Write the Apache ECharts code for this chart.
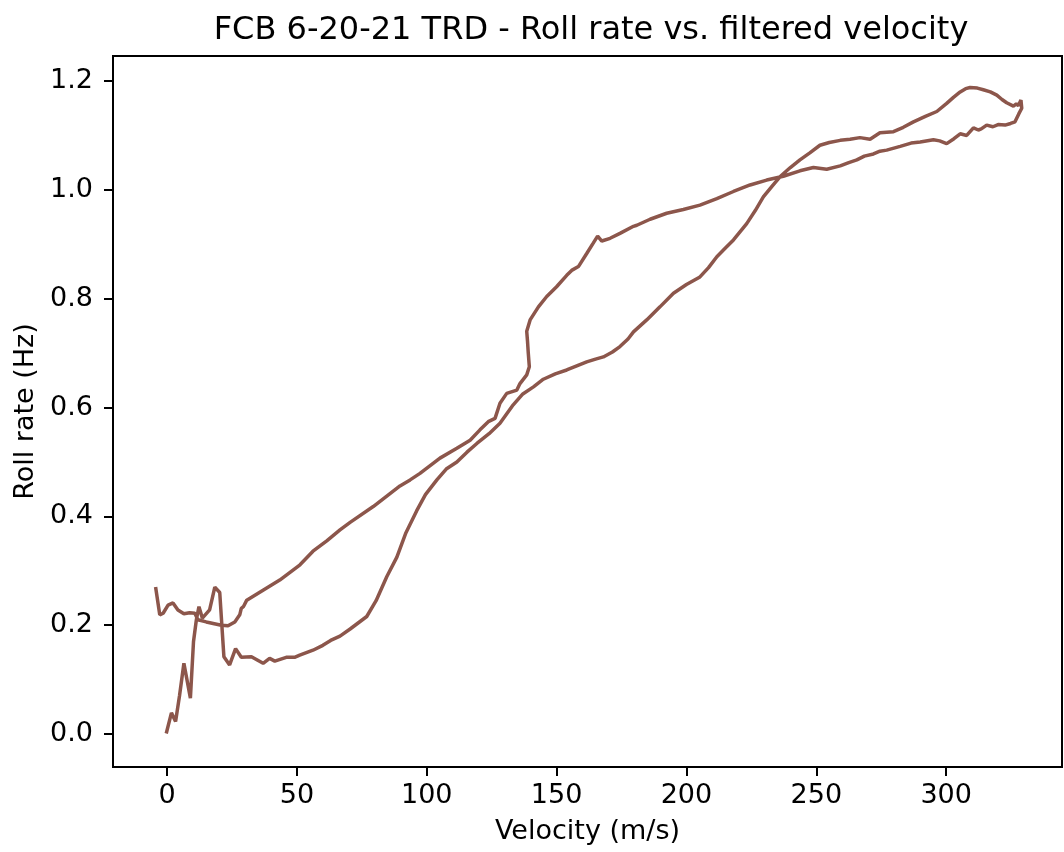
<!DOCTYPE html>
<html>
<head>
<meta charset="utf-8">
<script src="https://cdn.jsdelivr.net/npm/echarts@6/dist/echarts.min.js"></script>
<style>
html,body{margin:0;padding:0;background:#fff;}
#chart{width:1064px;height:852px;}
</style>
</head>
<body>
<div id="chart"></div>
<script>
const title = "FCB 6-20-21 TRD - Roll rate vs. filtered velocity";
const xTicks = [0, 50, 100, 150, 200, 250, 300];
const yTicks = [0.0, 0.2, 0.4, 0.6, 0.8, 1.0, 1.2];

// Ascent then descent, in flight order
const velocity = [
  -0.3, 0.4, 1.7, 3.3, 4.8, 6.5, 9.0, 10.2, 11.3, 12.3, 13.6, 16.4, 18.4, 20.3, 21.9, 24.1, 26.4, 28.6, 32.5, 37.0, 39.5, 41.5, 45.9, 49.1, 51.1, 56.2, 60.0,
  63.0, 66.6, 70.5, 76.9, 80.5, 84.6, 88.5, 92.0, 96.1, 99.5, 103.9, 107.5, 111.6, 115.5, 119.3, 124.0, 128.2, 133.3, 137.0, 141.1, 144.9, 149.5, 153.9, 158.0, 161.6, 165.0,
  168.0, 171.5, 174.4, 177.5, 179.6, 184.7, 189.8, 195.0, 200.0, 205.2, 208.5, 211.7, 215.0, 218.1, 223.2, 226.5, 229.6, 233.0, 236.0, 240.0, 243.7, 247.5, 251.4, 255.0, 259.2,
  263.0, 266.8, 270.7, 274.5, 279.7, 283.5, 287.4, 292.0, 296.4, 300.2, 302.8, 305.4, 307.5, 309.2, 312.0, 314.3, 317.0, 319.5, 321.5, 323.3, 325.9, 327.0, 327.8, 328.8, 329.5,
  329.1, 328.0, 326.5, 324.8, 322.7, 320.0, 318.0, 315.6, 313.5, 312.4, 310.5, 307.9, 305.4, 303.0, 300.2, 297.5, 295.1, 290.0, 286.5, 282.3, 277.1, 274.5, 272.0, 268.5, 265.6, 262.5,
  259.2, 254.0, 248.9, 243.7, 237.3, 230.9, 224.5, 218.1, 211.7, 205.2, 198.8, 192.4, 186.0, 180.9, 179.6, 174.4, 170.6, 167.4, 165.8, 164.1, 161.6, 158.4, 155.8, 153.9, 150.0,
  146.2, 143.0, 139.8, 138.5, 138.8, 139.1, 139.5, 138.5, 135.9, 134.7, 130.8, 128.2, 126.3, 123.7, 120.5, 116.7, 111.6, 105.1, 97.4, 93.6, 89.7, 79.4, 70.5, 66.6, 61.5, 56.2, 51.2,
  43.4, 36.5, 30.7, 29.4, 28.6, 28.0, 26.1, 23.5, 20.9, 15.1, 11.9, 10.7, 8.7, 6.5, 4.2, 2.3, 0.4, -1.5, -2.8, -4.4
];
const rollRate = [
  0.001, 0.004, 0.039, 0.023, 0.070, 0.130, 0.066, 0.170, 0.210, 0.234, 0.213, 0.228, 0.270, 0.260, 0.142, 0.127, 0.157, 0.141, 0.142, 0.130, 0.139, 0.134, 0.141, 0.141, 0.145, 0.154, 0.163,
  0.172, 0.180, 0.193, 0.216, 0.245, 0.289, 0.325, 0.370, 0.410, 0.440, 0.467, 0.487, 0.500, 0.518, 0.534, 0.552, 0.571, 0.605, 0.625, 0.638, 0.652, 0.662, 0.669, 0.677, 0.684, 0.689,
  0.693, 0.702, 0.712, 0.726, 0.739, 0.761, 0.785, 0.810, 0.826, 0.840, 0.857, 0.877, 0.893, 0.908, 0.938, 0.962, 0.987, 1.007, 1.024, 1.041, 1.055, 1.068, 1.082, 1.087, 1.091,
  1.093, 1.096, 1.093, 1.105, 1.107, 1.115, 1.125, 1.135, 1.144, 1.159, 1.170, 1.180, 1.186, 1.188, 1.187, 1.184, 1.180, 1.174, 1.166, 1.160, 1.154, 1.158, 1.155, 1.165, 1.162,
  1.150, 1.140, 1.125, 1.122, 1.119, 1.120, 1.116, 1.119, 1.112, 1.110, 1.114, 1.100, 1.103, 1.094, 1.085, 1.090, 1.092, 1.088, 1.086, 1.080, 1.073, 1.071, 1.066, 1.062, 1.055, 1.050,
  1.044, 1.038, 1.041, 1.035, 1.025, 1.018, 1.009, 0.997, 0.984, 0.972, 0.964, 0.957, 0.946, 0.935, 0.933, 0.920, 0.911, 0.906, 0.915, 0.902, 0.883, 0.859, 0.852, 0.843, 0.822,
  0.804, 0.785, 0.761, 0.740, 0.722, 0.700, 0.675, 0.660, 0.644, 0.632, 0.626, 0.608, 0.580, 0.574, 0.559, 0.540, 0.525, 0.507, 0.479, 0.467, 0.456, 0.418, 0.389, 0.375, 0.355, 0.336, 0.311,
  0.283, 0.263, 0.246, 0.234, 0.231, 0.219, 0.206, 0.199, 0.200, 0.206, 0.210, 0.222, 0.223, 0.221, 0.228, 0.241, 0.237, 0.222, 0.219, 0.270
];

const points = velocity.map((v, i) => [v, rollRate[i]]);
const font = 'DejaVu Sans';
const chart = echarts.init(document.getElementById('chart'));
chart.setOption({
  backgroundColor: '#fff',
  animation: false,
  title: {
    text: title, left: 586, top: 10, textAlign: 'center',
    textStyle: { fontFamily: font, fontSize: 32, fontWeight: 'normal', color: '#000' }
  },
  grid: { left: 113, right: 2, top: 56, bottom: 85, show: true, borderColor: '#000', borderWidth: 2, containLabel: false },
  xAxis: {
    type: 'value', min: -20.8, max: 344.6,
    name: 'Velocity (m/s)', nameLocation: 'middle', nameGap: 51,
    nameTextStyle: { fontFamily: font, fontSize: 27, color: '#000' },
    axisLine: { show: true, onZero: false, lineStyle: { color: '#000', width: 2 } },
    axisTick: { show: true, length: 9, customValues: xTicks, lineStyle: { color: '#000', width: 2 } },
    axisLabel: { customValues: xTicks, fontFamily: font, fontSize: 27, color: '#000', margin: 15 },
    splitLine: { show: false }
  },
  yAxis: {
    type: 'value', min: -0.0606, max: 1.246,
    name: 'Roll rate (Hz)', nameLocation: 'middle', nameGap: 72, nameRotate: 90,
    nameTextStyle: { fontFamily: font, fontSize: 27, color: '#000' },
    axisLine: { show: true, onZero: false, lineStyle: { color: '#000', width: 2 } },
    axisTick: { show: true, length: 9, customValues: yTicks, lineStyle: { color: '#000', width: 2 } },
    axisLabel: { customValues: yTicks, fontFamily: font, fontSize: 27, color: '#000', margin: 20,
      formatter: v => Number(v).toFixed(1) },
    splitLine: { show: false }
  },
  series: [{
    type: 'line', data: points, showSymbol: false, smooth: false,
    lineStyle: { color: '#8c564b', width: 3.5 },
    itemStyle: { color: '#8c564b' }
  }]
});
</script>
</body>
</html>
